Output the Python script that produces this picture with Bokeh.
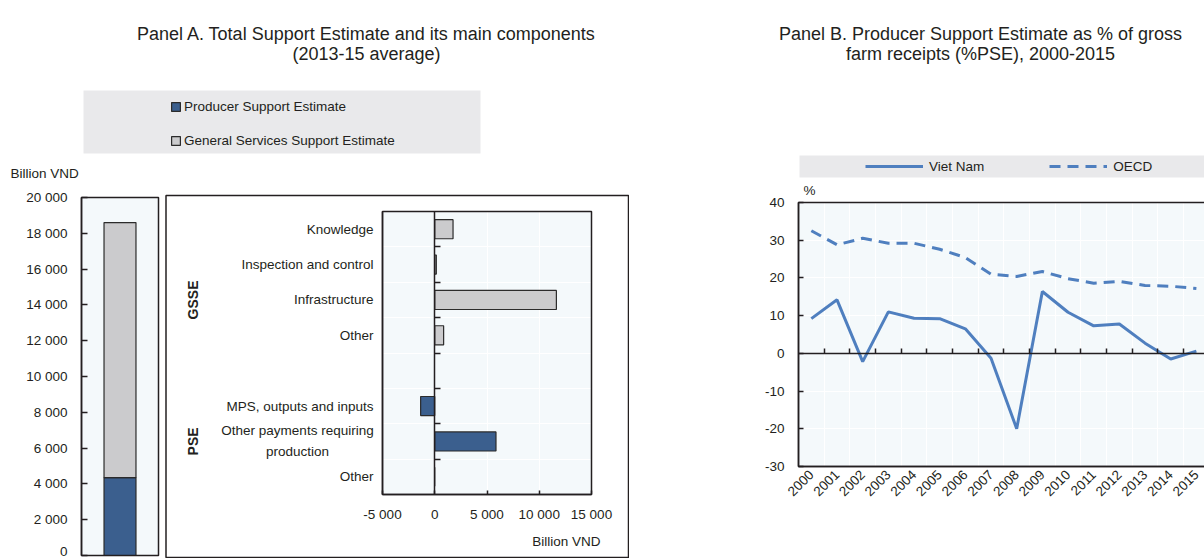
import math

from bokeh.embed import file_html
from bokeh.layouts import row
from bokeh.models import (BoxAnnotation, FixedTicker, Grid, Label, Legend,
                          LegendItem, LinearAxis, Range1d)
from bokeh.plotting import figure
from bokeh.resources import INLINE

# ---------------------------------------------------------------- data
# Panel A: Total Support Estimate, 2013-15 average (billion VND)
tse_parts = ["Producer Support Estimate", "General Services Support Estimate"]
tse_values = [4350, 14250]

comp_labels = ["Knowledge", "Inspection and control", "Infrastructure", "Other",
               "", "MPS, outputs and inputs",
               "Other payments requiring\nproduction", "Other"]
comp_values = [1750, 150, 11640, 850, None, -1350, 5860, 0]
comp_groups = ["GSSE", "GSSE", "GSSE", "GSSE", None, "PSE", "PSE", "PSE"]

total_ticks = list(range(0, 20001, 2000))
comp_ticks = [-5000, 0, 5000, 10000, 15000]

# Panel B: %PSE, 2000-2015
years = list(range(2000, 2016))
pse_viet_nam = [9.2, 14.2, -2.2, 11.0, 9.3, 9.2, 6.5, -1.3, -20.0, 16.4,
                10.9, 7.3, 7.8, 2.7, -1.5, 0.6]
pse_oecd = [32.5, 28.8, 30.5, 29.2, 29.2, 27.6, 25.4, 21.0, 20.4, 21.7,
            19.8, 18.6, 19.1, 18.0, 17.8, 17.2]
pct_ticks = list(range(-30, 41, 10))

# ---------------------------------------------------------------- style
FONT = "Liberation Sans"
FS = "13.5px"
TITLE_FS = "18px"
INK = "#231f20"
PSE_COLOR = "#3b5f8e"
GSSE_COLOR = "#cbcbcd"
EDGE = "#2b2b2b"
PANEL_BG = "#f4f9fb"
LEGEND_BG = "#e9e9eb"
LINE_COLOR = "#4f7fbf"
H = 558


def spaced(v):
    return f"{v:,}".replace(",", " ")


def make_axis(side_ticks, **kw):
    ax = LinearAxis(ticker=FixedTicker(ticks=side_ticks), **kw)
    ax.major_label_text_font = FONT
    ax.major_label_text_font_size = FS
    ax.major_label_text_color = INK
    ax.axis_line_color = INK
    ax.axis_line_width = 1.5
    ax.major_tick_line_color = INK
    ax.major_tick_line_width = 1.5
    ax.minor_tick_line_color = None
    ax.major_tick_out = 0
    return ax


def text(x, y, s, size=FS, align="left", baseline="middle", **kw):
    return Label(x=x, y=y, text=s, text_align=align, text_baseline=baseline,
                 text_font=FONT, text_font_size=size, text_color=INK, **kw)


def box(left, right, top, bottom, fill=None, line=None, level="underlay"):
    return BoxAnnotation(left=left, right=right, top=top, bottom=bottom,
                         fill_color=fill, fill_alpha=1 if fill else 0,
                         line_color=line, line_alpha=1, line_width=1.5,
                         level=level)


def blank_fig(w, xr, yr):
    p = figure(width=w, height=H, x_range=xr, y_range=yr,
               output_backend="svg", toolbar_location=None, min_border=0,
               x_axis_location=None, y_axis_location=None)
    p.xgrid.visible = False
    p.ygrid.visible = False
    p.outline_line_color = None
    p.background_fill_color = "white"
    p.border_fill_color = "white"
    return p


# ================================================================ Panel A
WA = 629
IN_L, IN_R, IN_T, IN_B = 382, 591, 211, 494      # components chart area
TOT_L, TOT_R, TOT_T, TOT_B = 81, 158, 197, 555   # total column area
n_slots = len(comp_labels)

kx = (comp_ticks[-1] - comp_ticks[0]) / (IN_R - IN_L)
xa0 = comp_ticks[0] - IN_L * kx
ky = n_slots / (IN_B - IN_T)


def ax_(px):
    return xa0 + px * kx


def ay_(py):
    return (py - IN_T) * ky


pa = blank_fig(WA, Range1d(ax_(0), ax_(WA)), Range1d(ay_(H), ay_(0)))

kt = 1 / (TOT_R - TOT_L)
kv = total_ticks[-1] / (TOT_B - TOT_T)
pa.extra_x_ranges = {"tot": Range1d(-TOT_L * kt, (WA - TOT_L) * kt)}
pa.extra_y_ranges = {"tot": Range1d(-(H - TOT_B) * kv,
                                    total_ticks[-1] + TOT_T * kv)}

# components chart background and grid
pa.add_layout(box(comp_ticks[0], comp_ticks[-1], 0, n_slots,
                  fill=PANEL_BG, level="image"))
boundaries = [float(s) for s in range(1, n_slots)]
pa.add_layout(Grid(dimension=0, ticker=FixedTicker(ticks=comp_ticks[1:-1]),
                   grid_line_color="white"))
pa.add_layout(Grid(dimension=1, ticker=FixedTicker(ticks=boundaries),
                   grid_line_color="white"))

# total column background (drawn above the components grid)
pa.add_layout(box(ax_(TOT_L), ax_(TOT_R), ay_(TOT_T), ay_(TOT_B),
                  fill=PANEL_BG))
# legend band
pa.add_layout(box(ax_(83), ax_(480), ay_(90), ay_(153), fill=LEGEND_BG))

# total stacked column
bottoms = [sum(tse_values[:i]) for i in range(len(tse_values))]
tops = [b + v for b, v in zip(bottoms, tse_values)]
r_tot = pa.vbar(x=[0.5] * len(tse_values), bottom=bottoms, top=tops,
                width=0.415, fill_color=[PSE_COLOR, GSSE_COLOR],
                line_color=EDGE, line_width=1.2,
                x_range_name="tot", y_range_name="tot")

tot_axis = make_axis(total_ticks, x_range_name="tot", y_range_name="tot",
                     fixed_location=0, bounds=(0, total_ticks[-1]))
tot_axis.major_label_overrides = {t: spaced(t) for t in total_ticks}
tot_axis.major_tick_in = 6
tot_axis.major_label_standoff = 14
pa.add_layout(tot_axis, "left")
pa.add_layout(box(ax_(TOT_L), ax_(TOT_R), ay_(TOT_T), ay_(TOT_B),
                  line=INK, level="overlay"))
pa.add_layout(text(ax_(10), ay_(173), "Billion VND", baseline="alphabetic"))

# components bars
centers = [s + 0.5 for s in range(n_slots)]
bar_y, bar_v, bar_c = [], [], []
for c, v, g in zip(centers, comp_values, comp_groups):
    if v is None:
        continue
    bar_y.append(c)
    bar_v.append(v)
    bar_c.append(GSSE_COLOR if g == "GSSE" else PSE_COLOR)
pa.hbar(y=bar_y, left=0, right=bar_v, height=0.54, fill_color=bar_c,
        line_color=EDGE, line_width=1.2)

single_line = {c: lab for c, lab in zip(centers, comp_labels)
               if lab and "\n" not in lab}
cat_axis = make_axis(list(single_line), fixed_location=comp_ticks[0],
                     bounds=(0, n_slots))
cat_axis.major_label_overrides = single_line
cat_axis.major_tick_line_color = None
cat_axis.major_label_standoff = 9
pa.add_layout(cat_axis, "left")
for c, lab in zip(centers, comp_labels):
    if "\n" in lab:
        pa.add_layout(text(ax_(297), c, lab, align="center",
                           text_line_height=1.4))

zero_axis = make_axis(boundaries, fixed_location=0, bounds=(0, n_slots))
zero_axis.major_label_text_color = None
zero_axis.major_tick_in = 6
pa.add_layout(zero_axis, "left")

val_axis = make_axis(comp_ticks, fixed_location=n_slots,
                     bounds=(comp_ticks[0], comp_ticks[-1]))
val_axis.major_label_overrides = {t: spaced(t) for t in comp_ticks}
val_axis.major_tick_in = 4
val_axis.major_label_standoff = 12
pa.add_layout(val_axis, "below")
pa.add_layout(box(comp_ticks[0], comp_ticks[-1], 0, n_slots,
                  line=INK, level="overlay"))

for name, yc in (("GSSE", 2.5), ("PSE", 6.5)):
    pa.add_layout(text(ax_(192), yc, name, size="14px", align="center",
                       angle=math.pi / 2, text_font_style="bold"))
pa.add_layout(text(ax_(600), ay_(541), "Billion VND", align="right"))
pa.add_layout(box(ax_(165.5), ax_(628), ay_(195), ay_(557),
                  line=INK, level="overlay"))

pa.add_layout(text(ax_(366), ay_(33),
                   "Panel A. Total Support Estimate and its main components",
                   size=TITLE_FS, align="center", baseline="alphabetic"))
pa.add_layout(text(ax_(366), ay_(53), "(2013-15 average)",
                   size=TITLE_FS, align="center", baseline="alphabetic"))

legend_a = Legend(
    items=[LegendItem(label=lab, renderers=[r_tot], index=i)
           for i, lab in enumerate(tse_parts)],
    location=(170, H - 150), orientation="vertical", glyph_width=11,
    glyph_height=11, label_standoff=3, spacing=14, padding=0, margin=0,
    label_height=20, border_line_color=None, background_fill_alpha=0,
    label_text_font=FONT, label_text_font_size=FS, label_text_color=INK)
pa.add_layout(legend_a)

# ================================================================ Panel B
WB = 575
B_L, B_T, B_B = 169, 202, 466
cw = 25.67
kyb = (pct_ticks[-1] - pct_ticks[0]) / (B_B - B_T)
xb0 = -0.5 - B_L / cw


def bx_(px):
    return xb0 + px / cw


def by_(py):
    return pct_ticks[-1] + (B_T - py) * kyb


pb = blank_fig(WB, Range1d(bx_(0), bx_(WB)), Range1d(by_(H), by_(0)))
idx = list(range(len(years)))
year_edges = [i + 0.5 for i in idx[:-1]]

pb.add_layout(box(-0.5, bx_(WB + 10), pct_ticks[-1], pct_ticks[0],
                  fill=PANEL_BG, level="image"))
pb.add_layout(Grid(dimension=0, ticker=FixedTicker(ticks=year_edges),
                   grid_line_color="white"))
pb.add_layout(Grid(dimension=1, ticker=FixedTicker(ticks=pct_ticks[1:-1]),
                   grid_line_color="white"))
pb.add_layout(box(bx_(170), bx_(WB + 10), by_(155), by_(177), fill=LEGEND_BG))

r_vn = pb.line(x=idx, y=pse_viet_nam, line_color=LINE_COLOR, line_width=3)
r_oecd = pb.line(x=idx, y=pse_oecd, line_color=LINE_COLOR, line_width=3,
                 line_dash="11 7")

pct_axis = make_axis(pct_ticks, fixed_location=-0.5,
                     bounds=(pct_ticks[0], pct_ticks[-1]))
pct_axis.major_label_overrides = {t: str(t) for t in pct_ticks}
pct_axis.major_tick_in = 5
pct_axis.major_label_standoff = 14
pb.add_layout(pct_axis, "left")

year_axis = make_axis(idx, fixed_location=pct_ticks[0], bounds=(-0.5, 20))
year_axis.major_label_overrides = {i: str(y) for i, y in zip(idx, years)}
year_axis.major_label_orientation = math.pi / 4
year_axis.major_tick_line_color = None
year_axis.major_label_standoff = 6
pb.add_layout(year_axis, "below")

zero_b = make_axis(year_edges, fixed_location=0, bounds=(-0.5, 20))
zero_b.major_label_text_color = None
zero_b.major_tick_in = 5
pb.add_layout(zero_b, "below")
pb.add_layout(box(-0.5, bx_(WB + 10), pct_ticks[-1], pct_ticks[0],
                  line=INK, level="overlay"))

legend_b = Legend(
    items=[LegendItem(label="Viet Nam", renderers=[r_vn]),
           LegendItem(label="OECD", renderers=[r_oecd])],
    location=(236, H - 176), orientation="horizontal", glyph_width=58,
    glyph_height=20, label_standoff=6, spacing=65, padding=0, margin=0,
    label_height=20, border_line_color=None, background_fill_alpha=0,
    label_text_font=FONT, label_text_font_size=FS, label_text_color=INK)
pb.add_layout(legend_b)
pb.add_layout(text(bx_(174), by_(190), "%"))

pb.add_layout(text(bx_(351), by_(33),
                   "Panel B. Producer Support Estimate as % of gross",
                   size=TITLE_FS, align="center", baseline="alphabetic"))
pb.add_layout(text(bx_(351), by_(53), "farm receipts (%PSE), 2000-2015",
                   size=TITLE_FS, align="center", baseline="alphabetic"))

layout = row(pa, pb, spacing=0)
open("out.html", "w").write(file_html(layout, INLINE))
